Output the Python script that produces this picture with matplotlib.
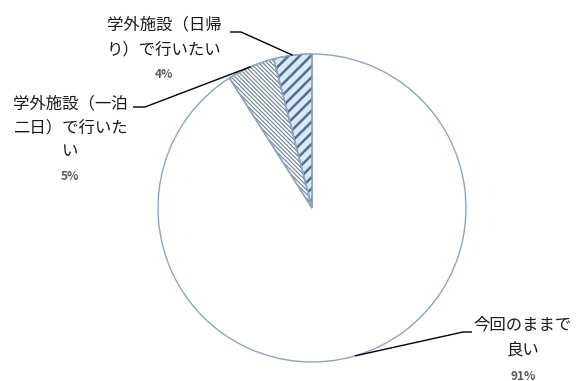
import numpy as np
import matplotlib
matplotlib.use("Agg")
import matplotlib.pyplot as plt
from matplotlib.patches import Wedge

plt.rcParams["font.family"] = ["Noto Sans CJK JP", "DejaVu Sans"]

# data (Excel order: clockwise from 12 o'clock)
labels = ["今回のままで\n良い", "学外施設（一泊\n二日）で行いた\nい", "学外施設（日帰\nり）で行いたい"]
values = [91, 5, 4]
pct_labels = ["91%", "5%", "4%"]

W, H = 577, 381
EDGE = "#8aa6c8"

fig = plt.figure(figsize=(W / 100, H / 100), dpi=100)
ax = fig.add_axes([0, 0, 1, 1])


def py(y):
    # image-style y (from top) -> axes y
    return H - y


cx, cy, R = 312, py(208), 154
wedges, _ = ax.pie(values, startangle=90, counterclock=False,
                   center=(cx, cy), radius=R, frame=True,
                   colors=["white", "white", "#dde9f5"],
                   wedgeprops=dict(edgecolor=EDGE, linewidth=1.0))
ax.set_xlim(0, W)
ax.set_ylim(0, H)
ax.set_aspect("equal")
ax.axis("off")

# hatch overlays
hatch_styles = {1: ("\\" * 8, "#6d7f95", 0.8), 2: ("///", "#4d6f98", 1.8)}
for i, (hatch, col, hlw) in hatch_styles.items():
    w = wedges[i]
    p = Wedge(w.center, w.r, w.theta1, w.theta2, facecolor="none",
              edgecolor=col, linewidth=0, hatch=hatch, zorder=3)
    if hasattr(p, "set_hatch_linewidth"):
        p.set_hatch_linewidth(hlw)
    else:
        plt.rcParams["hatch.linewidth"] = 1.2
    ax.add_patch(p)
    ax.add_patch(Wedge(w.center, w.r, w.theta1, w.theta2, facecolor="none",
                       edgecolor=EDGE, linewidth=1.0, zorder=4))

# label positions (image pixels): text centre x, first-line y, line step, leader elbow
layout = {
    0: dict(x=523, y0=325, step=25.5, elbow=((472, 332), (463, 332))),
    1: dict(x=70, y0=104, step=24, elbow=((133, 107), (145, 107))),
    2: dict(x=164, y0=25, step=24.5, elbow=((230, 32), (241, 32))),
}

for i, w in enumerate(wedges):
    L = layout[i]
    lines = labels[i].split("\n")
    for k, line in enumerate(lines):
        ax.text(L["x"], py(L["y0"] + k * L["step"]), line, ha="center",
                va="center", fontsize=11.8, color="#1a1a1a")
    ax.text(L["x"], py(L["y0"] + len(lines) * L["step"]), pct_labels[i],
            ha="center", va="center", fontsize=8.5, fontweight="bold",
            color="#5a5a5a")
    mid = np.deg2rad((w.theta1 + w.theta2) / 2)
    ex, ey = cx + R * np.cos(mid), cy + R * np.sin(mid)
    (ax1, ay1), (ax2, ay2) = L["elbow"]
    ax.plot([ax1, ax2, ex], [py(ay1), py(ay2), ey], color="black", lw=1.0,
            zorder=5, solid_capstyle="butt")

fig.savefig("out.png", dpi=100)
